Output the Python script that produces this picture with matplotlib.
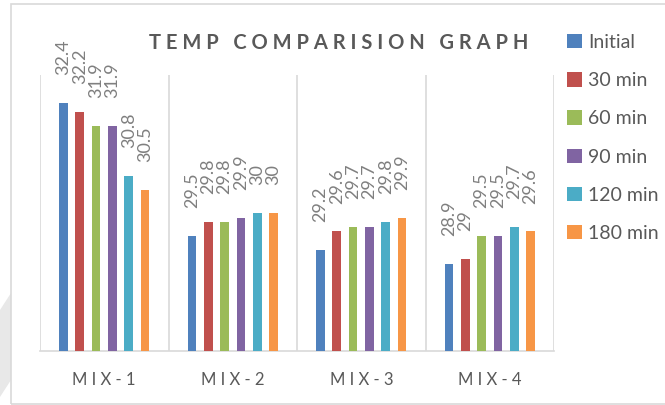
import numpy as np
import matplotlib.pyplot as plt
from matplotlib.patches import Rectangle, Patch, Polygon

plt.rcParams['font.family'] = ['Lato', 'DejaVu Sans']

# data
mixes = ['MIX-1', 'MIX-2', 'MIX-3', 'MIX-4']
series = ['Initial', '30 min', '60 min', '90 min', '120 min', '180 min']
initial = [32.4, 29.5, 29.2, 28.9]
min30 = [32.2, 29.8, 29.6, 29.0]
min60 = [31.9, 29.8, 29.7, 29.5]
min90 = [31.9, 29.9, 29.7, 29.5]
min120 = [30.8, 30.0, 29.8, 29.7]
min180 = [30.5, 30.0, 29.9, 29.6]
values = [initial, min30, min60, min90, min120, min180]
colors = ['#4F81BD', '#C0504D', '#9BBB59', '#8064A2', '#4BACC6', '#F79646']

W, H = 665, 405
fig = plt.figure(figsize=(W / 100, H / 100), dpi=100)

# faint shadow at the left edge and chart area border
fig.patches.append(Polygon([(0, 1 - 310 / H), (11 / W, 1 - 293 / H), (11 / W, 1 - 380 / H), (0, 1 - 397 / H)],
                           closed=True, transform=fig.transFigure, facecolor='#E8E8E8', edgecolor='none'))
fig.patches.append(Rectangle((11 / W, 1 - 404 / H), 1.0, 400 / H,
                             transform=fig.transFigure, fill=False,
                             edgecolor='#D9D9D9', linewidth=1.2))

ax = fig.add_axes([40 / W, 1 - 351 / H, 514 / W, 276 / H])
x = np.arange(len(mixes))
step = 0.127
width = 0.068
for k, (vals, c) in enumerate(zip(values, colors)):
    pos = x + (k - 2.5) * step
    bars = ax.bar(pos, vals, width, color=c, label=series[k], zorder=3)
    for b, v in zip(bars, vals):
        ax.annotate(f'{v:g}', (b.get_x() + b.get_width() / 2, v),
                    xytext=(0, 20), textcoords='offset points',
                    rotation=90, ha='center', va='bottom',
                    fontsize=13, color='#7F7F7F')

ax.set_ylim(27, 33)
ax.set_xlim(-0.5, 3.5)
ax.set_yticks([])
for sx in np.arange(-0.5, 4.0, 1.0):
    ax.axvline(sx, color='#D9D9D9', linewidth=1.2, zorder=1)
for s in ['top', 'right', 'left']:
    ax.spines[s].set_visible(False)
ax.spines['bottom'].set_color('#D9D9D9')
ax.spines['bottom'].set_linewidth(1.2)
ax.set_xticks(x)
ax.set_xticklabels([' '.join(m) for m in mixes], fontsize=12, color='#595959')
ax.tick_params(axis='x', length=0, pad=15)

title = '   '.join(' '.join(w) for w in 'TEMP COMPARISION GRAPH'.split())
fig.text(339 / W, 1 - 43 / H, title,
         ha='center', va='center', fontsize=14.5, fontweight='bold', color='#595959')

handles = [Patch(facecolor=c) for c in colors]
fig.legend(handles, series, loc='upper left', bbox_to_anchor=(567 / W, 1 - 34 / H),
           frameon=False, fontsize=14, labelcolor='#595959',
           handlelength=0.75, handleheight=0.75, handletextpad=0.35,
           labelspacing=1.09, borderaxespad=0, borderpad=0)

fig.savefig('out.png', dpi=100)
